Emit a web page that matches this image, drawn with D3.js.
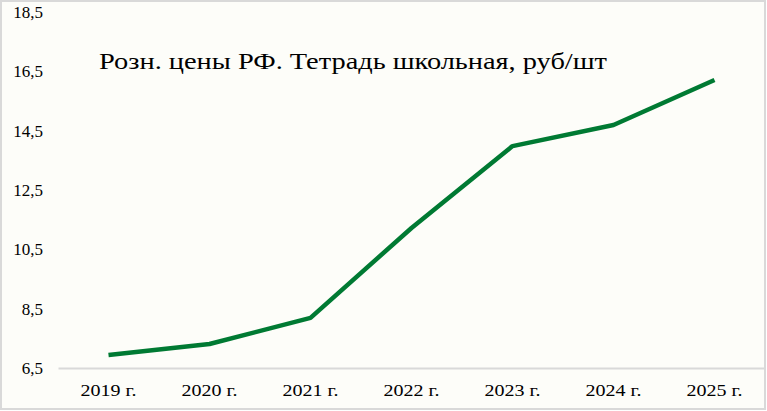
<!DOCTYPE html>
<html>
<head>
<meta charset="utf-8">
<script src="https://d3js.org/d3.v7.min.js"></script>
<style>
  html, body {
    margin: 0;
    padding: 0;
    background: #ffffff;
  }
  svg text {
    font-family: 'Liberation Serif', 'DejaVu Serif', serif;
    fill: #000;
  }
</style>
</head>
<body>
<div id="vis"></div>
<script>
// chart data
var years = ['2019 г.', '2020 г.', '2021 г.', '2022 г.', '2023 г.', '2024 г.', '2025 г.'];
var prices = [6.94, 7.31, 8.19, 11.22, 13.98, 14.69, 16.21];
var yTicks = [6.5, 8.5, 10.5, 12.5, 14.5, 16.5, 18.5];
var title = 'Розн. цены РФ. Тетрадь школьная, руб/шт';

var width = 767;
var height = 411;
var margin = { top: 12, bottom: 43, left: 58, right: 2 };

var svg = d3.select('#vis')
    .append('svg')
    .attr('width', width)
    .attr('height', height);

// background + border
svg.append('rect')
    .attr('x', 1)
    .attr('y', 1)
    .attr('width', width - 3)
    .attr('height', height - 3)
    .attr('fill', '#fdfdf9')
    .attr('stroke', '#d9d9d9')
    .attr('stroke-width', 2);

var g = svg.append('g')
    .attr('transform', 'translate(' + margin.left + ',' + margin.top + ')');

var w = width - margin.left - margin.right;
var h = height - margin.top - margin.bottom;

var x_scale = d3.scaleBand()
    .domain(years)
    .range([0, w]);

var y_scale = d3.scaleLinear()
    .domain([6.5, 18.5])
    .range([h, 0]);

var fmt = function(d) { return d3.format('.1f')(d).replace('.', ','); };

// y axis labels only
var y_axis = d3.axisLeft(y_scale)
    .tickValues(yTicks)
    .tickFormat(fmt)
    .tickSize(0)
    .tickPadding(15);

var yg = g.append('g')
    .attr('class', 'y axis')
    .call(y_axis);
yg.select('.domain').remove();
yg.attr('font-size', null).attr('font-family', null);
yg.selectAll('text')
    .style('font-size', '17px');

// x axis
var x_axis = d3.axisBottom(x_scale)
    .tickSize(0)
    .tickPadding(16);

var xg = g.append('g')
    .attr('class', 'x axis')
    .attr('transform', 'translate(0,' + h + ')')
    .call(x_axis);
xg.select('.domain').attr('stroke', '#d9d9d9').attr('stroke-width', 2);
xg.attr('font-size', null).attr('font-family', null);
xg.selectAll('text')
    .style('font-size', '17px')
    .attr('textLength', 56)
    .attr('lengthAdjust', 'spacingAndGlyphs');

// line
var line = d3.line()
    .x(function(d, i) { return x_scale(years[i]) + x_scale.bandwidth() / 2; })
    .y(function(d) { return y_scale(d); });

g.append('path')
    .datum(prices)
    .attr('fill', 'none')
    .attr('stroke', '#007a33')
    .attr('stroke-width', 4.5)
    .attr('stroke-linejoin', 'round')
    .attr('d', line);

// title
svg.append('text')
    .attr('x', 99)
    .attr('y', 69)
    .style('font-size', '24px')
    .attr('textLength', 508)
    .attr('lengthAdjust', 'spacingAndGlyphs')
    .text(title);
</script>
</body>
</html>
